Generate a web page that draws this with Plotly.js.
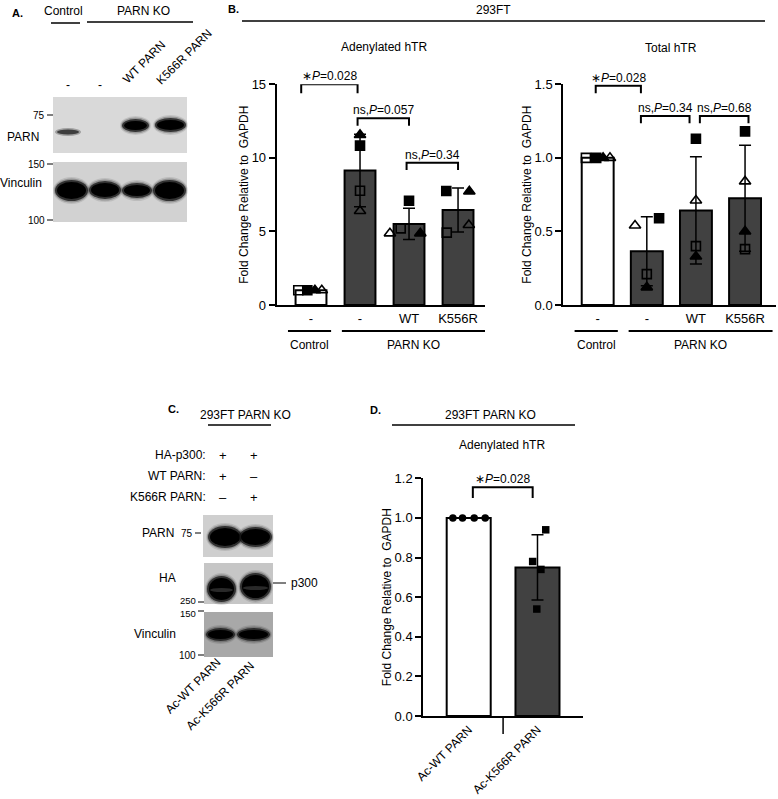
<!DOCTYPE html>
<html><head><meta charset="utf-8">
<script src="https://cdn.plot.ly/plotly-3.0.1.min.js"></script>
<style>html,body{margin:0;padding:0;background:#fff}#chart{width:778px;height:799px}</style>
</head><body><div id="chart"></div>
<script>
// ---------------- DATA ----------------
const categoriesB = ["-", "-", "WT", "K556R"];
const groupNamesB = ["Control", "PARN KO"];
const groupOfCategoryB = [0, 1, 1, 1];

// replicate order: open square, filled square, filled triangle, open triangle
const adenylatedOpenSquare     = [1.00, 7.77, 5.21, 4.92];
const adenylatedFilledSquare   = [1.00, 10.83, 7.09, 7.75];
const adenylatedFilledTriangle = [1.00, 11.56, 4.87, 7.72];
const adenylatedOpenTriangle   = [1.00, 6.39, 4.87, 5.44];

const totalOpenSquare     = [1.00, 0.21, 0.40, 0.38];
const totalFilledSquare   = [1.00, 0.59, 1.13, 1.18];
const totalFilledTriangle = [1.00, 0.12, 0.33, 0.50];
const totalOpenTriangle   = [1.00, 0.54, 0.71, 0.84];

const pValuesAdenylated = ["∗<i>P</i>=0.028", "ns,<i>P</i>=0.057", "ns,<i>P</i>=0.34"];
const pValuesTotal      = ["∗<i>P</i>=0.028", "ns,<i>P</i>=0.34", "ns,<i>P</i>=0.68"];

const categoriesD = ["Ac-WT PARN", "Ac-K566R PARN"];
const acWTReplicates    = [1.00, 1.00, 1.00, 1.00];
const acK566RReplicates = [0.94, 0.78, 0.74, 0.54];
const pValueD = "∗<i>P</i>=0.028";

// ---------------- STYLE ----------------
const W = 778, H = 799;
const X = p => p / W, Y = p => 1 - p / H;
const FONT = '"Liberation Sans", Arial, sans-serif';
const DARK = '#414141';
const symbols = ["square-open", "square", "triangle-up", "triangle-up-open"];
const symSize = [9, 9, 10, 10];
// horizontal scatter of replicate markers [category][replicate]
const jitterA = [[-0.26,-0.075,0.08,0.22],[0,0,0,0],[-0.17,0,0.23,-0.39],[-0.23,-0.24,0.23,0.22]];
const jitterT = [[-0.24,-0.03,0.11,0.25],[0,0.25,0,-0.24],[0,0,0,0],[0,0,0,0]];
const jitterD = [[-0.23,-0.09,0.08,0.24],[0.12,-0.07,0.05,-0.01]];

const mean = a => a.reduce((s,v)=>s+v,0)/a.length;
const sd = a => { const m = mean(a); return Math.sqrt(a.reduce((s,v)=>s+(v-m)*(v-m),0)/(a.length-1)); };

const repsA = [adenylatedOpenSquare, adenylatedFilledSquare, adenylatedFilledTriangle, adenylatedOpenTriangle];
const repsT = [totalOpenSquare, totalFilledSquare, totalFilledTriangle, totalOpenTriangle];

function barTrace(cats, reps, xa, ya, colors, width) {
  const vals = cats.map((_, i) => reps.map(r => r[i]));
  return {
    type: 'bar', x: cats.map((_, i) => i), y: vals.map(mean),
    xaxis: xa, yaxis: ya, width: width,
    marker: {color: colors, line: {color: 'black', width: 2}},
    error_y: {type: 'data', array: vals.map(sd), visible: true, color: 'black', thickness: 1.5, width: 6},
    hoverinfo: 'skip', showlegend: false
  };
}
function pointTraces(cats, reps, jit, xa, ya) {
  return reps.map((r, k) => ({
    type: 'scatter', mode: 'markers', xaxis: xa, yaxis: ya, showlegend: false, cliponaxis: false,
    x: cats.map((_, i) => i + jit[i][k]), y: r,
    marker: {symbol: symbols[k], size: symSize[k], color: 'black', line: {color: 'black', width: 1.6}}
  }));
}

const traces = [];
traces.push(barTrace(categoriesB, repsA, 'x', 'y', ['white', DARK, DARK, DARK], 0.63));
traces.push(...pointTraces(categoriesB, repsA, jitterA, 'x', 'y'));
traces.push(barTrace(categoriesB, repsT, 'x2', 'y2', ['white', DARK, DARK, DARK], 0.65));
traces.push(...pointTraces(categoriesB, repsT, jitterT, 'x2', 'y2'));
traces.push(barTrace(categoriesD, [0,1,2,3].map(k => [acWTReplicates[k], acK566RReplicates[k]]), 'x3', 'y3', ['white', DARK], 0.64));
[acWTReplicates, acK566RReplicates].forEach((reps, i) => {
  traces.push({type: 'scatter', mode: 'markers', xaxis: 'x3', yaxis: 'y3', showlegend: false, cliponaxis: false,
    x: reps.map((_, k) => i + jitterD[i][k]), y: reps,
    marker: {symbol: i === 0 ? 'circle' : 'square', size: 7.5, color: 'black'}});
});

// ---------------- LAYOUT ----------------
const tickFont = {family: FONT, size: 13, color: 'black'};
const yTitle = {text: 'Fold Change Relative to  GAPDH', font: {family: FONT, size: 12, color: 'black'}, standoff: 0};
function yAxis(domain, range, dtick, fmt) {
  return {domain, range, dtick, tickformat: fmt, ticks: 'outside', ticklen: 6, tickwidth: 2, tickcolor: 'black',
    showline: true, linewidth: 2, linecolor: 'black', showgrid: false, zeroline: false, tickfont: tickFont,
    title: yTitle, fixedrange: true};
}
function xAxis(domain, range, cats, anchor, angle, font) {
  return {domain, range, anchor, tickvals: cats.map((_, i) => i), ticktext: cats, ticks: '', tickangle: angle,
    showline: true, linewidth: 2, linecolor: 'black', showgrid: false, zeroline: false, tickfont: font || tickFont, fixedrange: true};
}

const shapes = [], annotations = [];
function ann(x, y, text, size, o) {
  annotations.push(Object.assign({xref: 'paper', yref: 'paper', x: X(x), y: Y(y), text, showarrow: false,
    xanchor: 'center', yanchor: 'middle', font: {family: FONT, size: size || 12, color: 'black'}}, o || {}));
}
function line(x0, y0, x1, y1, w) {
  shapes.push({type: 'line', xref: 'paper', yref: 'paper', x0: X(x0), y0: Y(y0), x1: X(x1), y1: Y(y1),
    line: {color: 'black', width: w || 1.5}});
}
function rect(x0, y0, x1, y1, fill) {
  shapes.push({type: 'rect', xref: 'paper', yref: 'paper', x0: X(x0), y0: Y(y1), x1: X(x1), y1: Y(y0),
    fillcolor: fill, line: {width: 0}, layer: 'above'});
}
function band(x0, y0, x1, y1, fill, op) {
  shapes.push({type: 'circle', xref: 'paper', yref: 'paper', x0: X(x0), y0: Y(y1), x1: X(x1), y1: Y(y0),
    fillcolor: fill, opacity: op == null ? 1 : op, line: {width: 0}, layer: 'above'});
}
// soft-edged western-blot band: several translucent layers
function blotBand(x0, y0, x1, y1, core) {
  band(x0 - 2, y0 - 3, x1 + 2, y1 + 3, '#000', 0.10);
  band(x0 - 1, y0 - 1.5, x1 + 1, y1 + 1.5, '#000', 0.22);
  band(x0, y0, x1, y1, '#111', 0.75);
  band(x0 + 2, y0 + 2, x1 - 2, y1 - 2, core || '#000', 1);
}
function bracket(xa, ya, x0, x1, y, tick, text) {
  shapes.push({type: 'path', xref: xa, yref: ya, path: `M${x0},${y - tick} L${x0},${y} L${x1},${y} L${x1},${y - tick}`,
    line: {color: 'black', width: 2}});
  annotations.push({xref: xa, yref: ya, x: (x0 + x1) / 2, y: y, yanchor: 'bottom', yshift: -1, text, showarrow: false,
    font: {family: FONT, size: 12, color: 'black'}});
}

// ---- Panel A (western blot) ----
ann(17, 13, '<b>A.</b>', 11);
ann(64, 11, 'Control', 12); line(51, 23, 80, 23);
ann(143, 11, 'PARN KO', 12); line(87, 22, 193, 22);
ann(68, 85, '-', 12); ann(100, 85, '-', 12);
ann(144, 62, 'WT PARN', 12, {textangle: -45});
ann(184, 57, 'K566R PARN', 12, {textangle: -45});
rect(53, 97, 187, 153, '#d9d9d9');
band(55, 128, 81, 136, '#666', 0.5); band(57, 129.5, 79, 134.5, '#333', 0.9);
blotBand(122, 119, 149, 132); blotBand(155, 118, 186, 132);
ann(47, 115, '75', 10, {xanchor: 'right'}); line(47, 115, 53, 115, 1);
ann(23, 137, 'PARN', 12);
rect(53, 162, 187, 222, '#d2d2d2');
blotBand(55, 180, 88, 201); blotBand(89, 181, 121, 199); blotBand(122, 183, 152, 198); blotBand(153, 180, 186, 201);
ann(47, 164, '150', 10, {xanchor: 'right'}); line(47, 164, 53, 164, 1);
ann(47, 220, '100', 10, {xanchor: 'right'}); line(47, 220, 53, 220, 1);
ann(21, 183, 'Vinculin', 12);

// ---- Panel B ----
ann(233, 9, '<b>B.</b>', 11);
ann(493, 10, '293FT', 12);
line(242, 21, 765, 21);
ann(384, 47, 'Adenylated hTR', 12);
ann(671, 48, 'Total hTR', 12);
bracket('x', 'y', -0.2, 0.95, 15.0, 0.6, pValuesAdenylated[0]);
bracket('x', 'y', 0.95, 2.0, 12.69, 0.5, pValuesAdenylated[1]);
bracket('x', 'y', 1.95, 3.0, 9.67, 0.5, pValuesAdenylated[2]);
bracket('x2', 'y2', -0.04, 0.88, 1.49, 0.05, pValuesTotal[0]);
bracket('x2', 'y2', 0.88, 1.87, 1.285, 0.05, pValuesTotal[1]);
bracket('x2', 'y2', 2.08, 3.07, 1.285, 0.05, pValuesTotal[2]);
// group lines under the category labels
['x', 'x2'].forEach(xa => {
  groupNamesB.forEach((g, gi) => {
    const idx = groupOfCategoryB.map((v, i) => v === gi ? i : -1).filter(i => i >= 0);
    const a = gi === 0 ? Math.min(...idx) - 0.47 : Math.min(...idx) - 0.37;
    const b = Math.max(...idx) + (gi === groupNamesB.length - 1 ? 0.56 : 0.41);
    shapes.push({type: 'line', xref: xa, yref: 'paper', x0: a, x1: b, y0: Y(331), y1: Y(331), line: {color: 'black', width: 2}});
    annotations.push({xref: xa, yref: 'paper', x: (a + b) / 2, y: Y(345), text: g, showarrow: false,
      font: {family: FONT, size: 12, color: 'black'}});
  });
});

// ---- Panel C (western blot) ----
ann(173, 409, '<b>C.</b>', 11);
ann(245, 415, '293FT PARN KO', 12); line(208, 425, 271, 425);
ann(208, 455, 'HA-p300:', 12, {xanchor: 'right'});
ann(208, 476, 'WT PARN:', 12, {xanchor: 'right'});
ann(208, 497, 'K566R PARN:', 12, {xanchor: 'right'});
[['+', '+'], ['+', '\u2013'], ['\u2013', '+']].forEach((row, r) => {
  ann(223, 455 + r * 21, row[0], 13); ann(254, 455 + r * 21, row[1], 13);
});
rect(203, 515, 273, 557, '#cfcfcf');
blotBand(208, 526, 242, 548); blotBand(239, 527, 272, 547);
ann(158, 533, 'PARN', 12);
ann(195, 533, '75', 10, {xanchor: 'right'}); line(195, 533, 201, 533, 1);
rect(204, 563, 273, 604, '#c6c6c6');
blotBand(207, 576, 236, 602); blotBand(240, 573, 271, 600);
band(210, 588, 233, 592, '#444', 0.6); band(243, 586, 268, 590, '#444', 0.6);
ann(167, 578, 'HA', 12);
ann(198, 600, '250', 9.5, {xanchor: 'right'}); line(198, 602, 204, 602, 1);
line(273, 583, 286, 583, 1); ann(289, 583, 'p300', 12, {xanchor: 'left'});
rect(204, 612, 273, 657, '#a8a8a8');
blotBand(206, 628, 235, 641); blotBand(237, 628, 270, 641);
ann(198, 613, '150', 9.5, {xanchor: 'right'}); line(198, 611, 204, 611, 1);
ann(198, 655, '100', 10, {xanchor: 'right'}); line(198, 655, 204, 655, 1);
ann(155, 634, 'Vinculin', 12);
ann(193, 686, 'Ac-WT PARN', 12, {textangle: -45});
ann(220, 696, 'Ac-K566R PARN', 12, {textangle: -45});

// ---- Panel D ----
ann(375, 410, '<b>D.</b>', 11);
ann(490, 415, '293FT PARN KO', 12); line(392, 425, 575, 425);
ann(502, 445, 'Adenylated hTR', 12);
bracket('x3', 'y3', 0.06, 0.93, 1.155, 0.055, pValueD);
shapes.push({type: 'line', xref: 'x3', yref: 'paper', x0: 0.5, x1: 0.5, y0: Y(717), y1: Y(734), line: {color: 'black', width: 1.5}});

const layout = {
  width: W, height: H, margin: {l: 0, r: 0, t: 0, b: 0},
  paper_bgcolor: 'white', plot_bgcolor: 'rgba(0,0,0,0)',
  font: {family: FONT, color: 'black'}, showlegend: false, bargap: 0,
  xaxis: xAxis([X(276.7), X(485)], [-0.70, 3.55], categoriesB, 'y', 0),
  yaxis: yAxis([Y(305), Y(84.3)], [0, 15], 5, 'd'),
  xaxis2: xAxis([X(563.3), X(776)], [-0.70, 3.63], categoriesB, 'y2', 0),
  yaxis2: Object.assign(yAxis([Y(305), Y(84.3)], [0, 1.5], 0.5, '.1f'), {anchor: 'x2'}),
  xaxis3: xAxis([X(423.3), X(583.3)], [-0.66, 1.666], categoriesD, 'y3', -45, {family: FONT, size: 12, color: 'black'}),
  yaxis3: Object.assign(yAxis([Y(716), Y(478.3)], [0, 1.2], 0.2, '.1f'), {anchor: 'x3'}),
  shapes, annotations
};
layout.yaxis.anchor = 'x';
Plotly.newPlot('chart', traces, layout, {displayModeBar: false, staticPlot: true});
</script></body></html>
